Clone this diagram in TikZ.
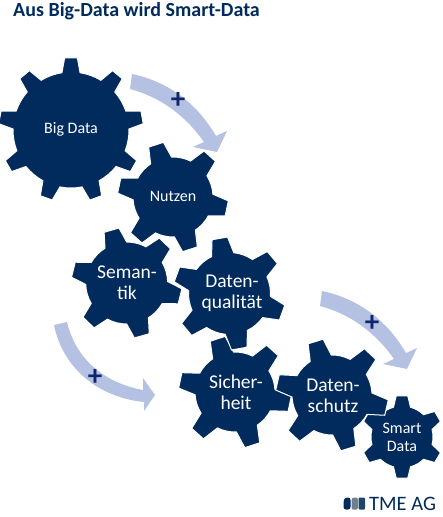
\documentclass[tikz,border=0pt]{standalone}
\usepackage{fontspec}
\setmainfont{Carlito}
\usetikzlibrary{calc}
\definecolor{navy}{HTML}{002B5C}
\definecolor{arrowblue}{HTML}{B4C1E3}
\definecolor{plusblue}{HTML}{10266B}
\definecolor{logogray}{HTML}{6F7F8E}
\tikzset{
  gearbody/.style={fill=navy,draw=white,line width=1pt,line join=miter},
  gearlabel/.style 2 args={text=white,align=center,inner sep=0pt,font=\fontsize{#1}{#2}\selectfont},
  bluearrow/.style={fill=arrowblue,draw=none},
  plusmark/.style={text=plusblue,inner sep=0pt,font=\fontsize{29}{29}\selectfont\bfseries}
}
% #1 cx, #2 cy, #3 body R, #4 tip R, #5 teeth, #6 first angle, #7 base half-angle, #8 tip half-angle
\newcommand{\gearshape}[8]{%
  \pgfmathsetmacro{\gstep}{360/#5}%
  \fill[gearbody] \foreach \gi in {1,...,#5} {%
    \pgfextra{\pgfmathsetmacro{\ga}{#6+(\gi-1)*\gstep}%
      \pgfmathsetmacro{\gc}{\gstep-2*#7}}%
    \ifnum\gi=1 ($(#1,#2)+(#6-#7:#3 and -#3)$) \else -- ($(#1,#2)+(\ga-#7:#3 and -#3)$) \fi
    -- ($(#1,#2)+(\ga-#8:#4 and -#4)$)
    -- ($(#1,#2)+(\ga+#8:#4 and -#4)$)
    -- ($(#1,#2)+(\ga+#7:#3 and -#3)$)
    arc[start angle=-\ga-#7,delta angle=-\gc,x radius=#3,y radius=#3]
  } -- cycle;%
}
\begin{document}
\begin{tikzpicture}[x=1pt,y=-1pt]
\useasboundingbox (0,0) rectangle (443,517);
\fill[white] (0,0) rectangle (443,517);
\node[anchor=west,inner sep=0pt,text=navy,font=\fontsize{20}{20}\selectfont\bfseries] (title) at (13,11) {Aus Big-Data wird Smart-Data};
% arrows
\path[bluearrow] (132,74) .. controls (170,82) and (198,105) .. (216,136) -- (227,131) -- (217,152) -- (193,147) -- (204,142) .. controls (185,115) and (160,97) .. (130,89) -- cycle;
\path[bluearrow,shift={(190,217)}] (132,74) .. controls (170,82) and (198,105) .. (216,136) -- (227,131) -- (217,152) -- (193,147) -- (204,142) .. controls (185,115) and (160,97) .. (130,89) -- cycle;
\path[bluearrow] (54,325) .. controls (62,365) and (95,397) .. (144,402) -- (144,411) -- (155,395) -- (143,378) -- (143,390) .. controls (105,383) and (76,360) .. (67,322) -- cycle;
\node[plusmark] (p1) at (178,100) {+};
\node[plusmark] (p2) at (372,323) {+};
\node[plusmark] (p3) at (95,377) {+};
% gears
\gearshape{71}{130}{58}{72.5}{9}{90}{9}{5}
\gearshape{173}{197}{40}{55.5}{6}{108}{16}{8}
\gearshape{126.7}{283}{41}{55.5}{6}{106}{16}{8}
\gearshape{235}{392}{40}{56.5}{6}{108}{16}{8}
\gearshape{229.5}{293.5}{41}{56.5}{6}{100}{16}{8}
\gearshape{402}{437}{31}{41.5}{6}{90}{16}{8}
\gearshape{332}{395}{40}{56.5}{6}{107}{16}{8}
% labels
\node[gearlabel={16}{18}] (big) at (71,129) {Big Data};
\node[gearlabel={16}{18}] (nutzen) at (173,196.5) {Nutzen};
\node[gearlabel={19.5}{21}] (sem) at (127,283) {Seman-\\tik};
\node[gearlabel={19.5}{21}] (dq) at (232,293.5) {Daten-\\qualität};
\node[gearlabel={19.5}{21}] (si) at (236,392.5) {Sicher-\\heit};
\node[gearlabel={19.5}{21}] (ds) at (333,395.5) {Daten-\\schutz};
\node[gearlabel={16}{18}] (sd) at (402,437) {Smart\\Data};
% logo
\fill[navy,rounded corners=2.5pt] (343.5,509.5) -- (343.5,501) -- (345,497.5) -- (350.5,497.5) -- (350.5,509.5) -- cycle;
\fill[logogray,rounded corners=1.5pt] (351.5,509.5) -- (351.5,499) -- (353,497.5) -- (358,497.5) -- (358,509.5) -- cycle;
\fill[navy!70!logogray,rounded corners=1pt] (358.7,509.5) -- (358.7,497.5) -- (365,497.5) -- (365,509.5) -- cycle;
\node[anchor=west,inner sep=0pt,text=navy,font=\fontsize{20.5}{20.5}\selectfont] (tme) at (369,503.5) {TME AG};
\end{tikzpicture}
\end{document}
